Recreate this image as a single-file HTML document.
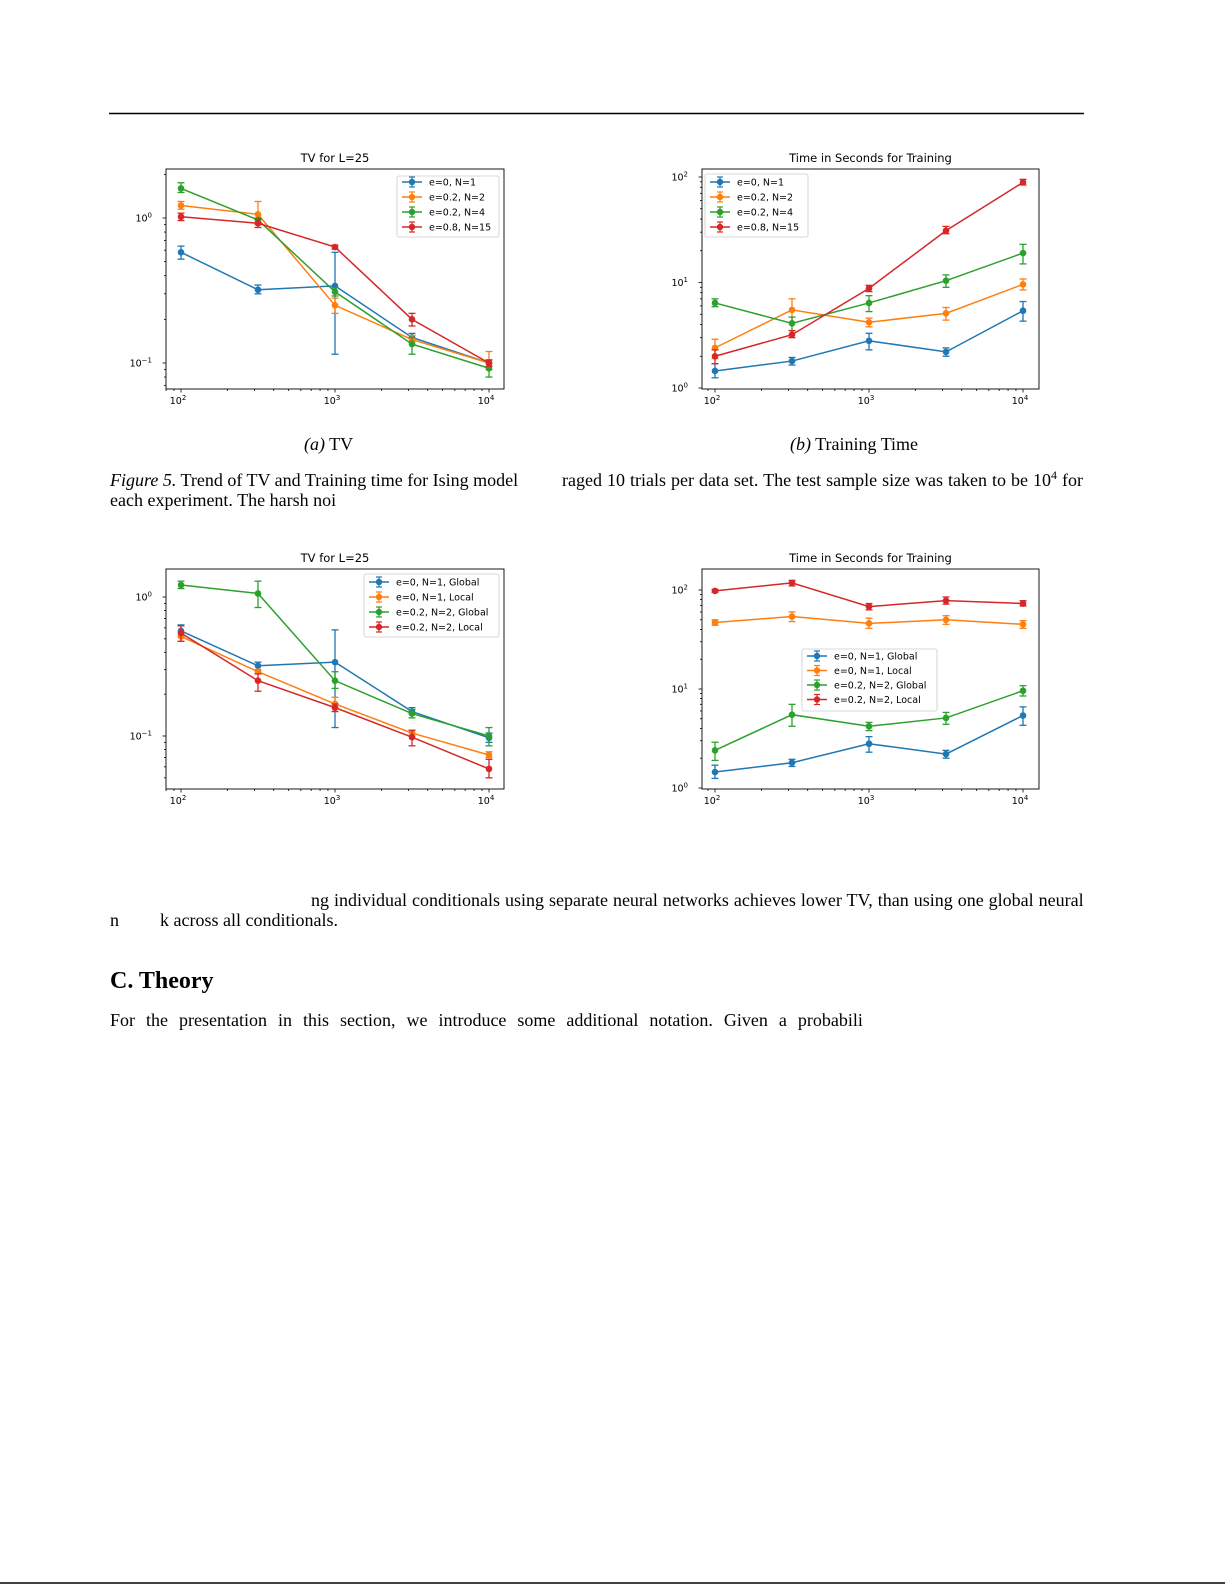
<!DOCTYPE html>
<html><head><meta charset="utf-8">
<style>
html,body{margin:0;padding:0;background:#fff;}
body{width:1225px;height:1585px;position:relative;overflow:hidden;font-family:"Liberation Serif",serif;color:#000;}
.t{position:absolute;font-size:18px;white-space:nowrap;line-height:1;}
svg{position:absolute;left:0;top:0;}
</style></head><body>
<svg id="s" width="1225" height="1585" xmlns="http://www.w3.org/2000/svg">
<line x1="109" y1="113.5" x2="1084" y2="113.5" stroke="#000" stroke-width="1.6"/>
<line x1="0" y1="1583" x2="1225" y2="1583" stroke="#000" stroke-width="1.5"/>
</svg>
<div class="t" style="left:304px;top:435px;"><i>(a)</i> TV</div>
<div class="t" style="left:790px;top:435px;"><i>(b)</i> Training Time</div>
<div class="t" style="left:110px;top:471px;"><i>Figure 5.</i> Trend of TV and Training time for Ising model</div>
<div class="t" style="left:562px;top:471px;word-spacing:0.5px;">raged 10 trials per data set. The test sample size was taken to be 10<sup style="font-size:12px;vertical-align:7px;line-height:0">4</sup> for</div>
<div class="t" style="left:110px;top:491px;">each experiment. The harsh noi</div>
<div class="t" style="left:311px;top:891px;word-spacing:0.5px;">ng individual conditionals using separate neural networks achieves lower TV, than using one global neural</div>
<div class="t" style="left:110px;top:911px;">n</div>
<div class="t" style="left:160px;top:911px;">k across all conditionals.</div>
<div class="t" style="left:110px;top:969px;font-size:24px;font-weight:bold;">C. Theory</div>
<div class="t" style="left:110px;top:1011px;word-spacing:6.5px;">For the presentation in this section, we introduce some additional notation. Given a probabili</div>
<script>
var S=document.getElementById('s'),NS='http://www.w3.org/2000/svg';
function el(t,a,txt){var e=document.createElementNS(NS,t);for(var k in a)e.setAttribute(k,a[k]);if(txt!==undefined)e.textContent=txt;S.appendChild(e);return e;}
var C=['#1f77b4','#ff7f0e','#2ca02c','#d62728'];
var XS=[100,316.2,1000,3162,10000];
function chart(o){
 var X=function(v){return o.xa+(Math.log10(v)-2)*o.dx;};
 var Y=function(v){return o.ya-Math.log10(v)*o.dy;};
 var F='font-family:"DejaVu Sans",sans-serif;';
 el('text',{x:(o.b[0]+o.b[2])/2,y:o.b[1]-7,'text-anchor':'middle',style:F+'font-size:11.5px'},o.title);
 for(var e=1;e<=4;e++)for(var m=1;m<10;m++){var v=m*Math.pow(10,e),x=X(v);if(x<o.b[0]||x>o.b[2])continue;
  el('line',{x1:x,y1:o.b[3],x2:x,y2:o.b[3]+(m==1?3.5:2),stroke:'#000','stroke-width':0.8});
  if(m==1){var t=el('text',{x:x-3,y:o.b[3]+15,'text-anchor':'middle',style:F+'font-size:9.5px'},'10');var ts=document.createElementNS(NS,'tspan');ts.setAttribute('dy','-4');ts.setAttribute('style','font-size:7px');ts.textContent=''+e;t.appendChild(ts);}}
 for(var e=-3;e<=3;e++)for(var m=1;m<10;m++){var v=m*Math.pow(10,e),y=Y(v);if(y<o.b[1]||y>o.b[3])continue;
  el('line',{x1:o.b[0],y1:y,x2:o.b[0]-(m==1?3.5:2),y2:y,stroke:'#000','stroke-width':0.8});
  if(m==1){var t=el('text',{x:o.b[0]-14,y:y+3.5,'text-anchor':'end',style:F+'font-size:9.5px'},'10');var ts=document.createElementNS(NS,'tspan');ts.setAttribute('dy','-4');ts.setAttribute('style','font-size:7px');ts.textContent=(e<0?'\u2212':'')+Math.abs(e);t.appendChild(ts);}}
 o.d.forEach(function(s,i){
  var pts=s.map(function(p,j){return X(XS[j])+','+Y(p[0]);}).join(' ');
  s.forEach(function(p,j){var x=X(XS[j]);el('line',{x1:x,y1:Y(p[1]),x2:x,y2:Y(p[2]),stroke:C[i],'stroke-width':1.3});
   el('line',{x1:x-3.5,y1:Y(p[1]),x2:x+3.5,y2:Y(p[1]),stroke:C[i],'stroke-width':1.3});
   el('line',{x1:x-3.5,y1:Y(p[2]),x2:x+3.5,y2:Y(p[2]),stroke:C[i],'stroke-width':1.3});});
  el('polyline',{points:pts,fill:'none',stroke:C[i],'stroke-width':1.5});
  s.forEach(function(p,j){el('circle',{cx:X(XS[j]),cy:Y(p[0]),r:3.3,fill:C[i]});});
 });
 var L=o.leg;
 el('rect',{x:L[0],y:L[1],width:L[2]-L[0],height:L[3]-L[1],rx:2,fill:'#fff','fill-opacity':0.85,stroke:'#ccc','stroke-width':0.8});
 o.labels.forEach(function(s,i){var y=L[4]+i*L[5],x=L[0]+5;
  el('line',{x1:x,y1:y,x2:x+20,y2:y,stroke:C[i],'stroke-width':1.5});
  el('line',{x1:x+10,y1:y-5,x2:x+10,y2:y+5,stroke:C[i],'stroke-width':1.2});
  el('line',{x1:x+7,y1:y-5,x2:x+13,y2:y-5,stroke:C[i],'stroke-width':1.2});
  el('line',{x1:x+7,y1:y+5,x2:x+13,y2:y+5,stroke:C[i],'stroke-width':1.2});
  el('circle',{cx:x+10,cy:y,r:3.2,fill:C[i]});
  el('text',{x:x+27,y:y+3.5,style:F+'font-size:9.5px'},s);});
 el('rect',{x:o.b[0],y:o.b[1],width:o.b[2]-o.b[0],height:o.b[3]-o.b[1],fill:'none',stroke:'#000','stroke-width':0.9});
}
var lab1=['e=0, N=1','e=0.2, N=2','e=0.2, N=4','e=0.8, N=15'];
var lab2=['e=0, N=1, Global','e=0, N=1, Local','e=0.2, N=2, Global','e=0.2, N=2, Local'];
var blueT=[[1.45,1.25,1.7],[1.8,1.65,1.95],[2.8,2.3,3.3],[2.2,2.0,2.4],[5.4,4.3,6.6]];
var orT=[[2.4,1.9,2.9],[5.5,4.2,7],[4.2,3.8,4.6],[5.1,4.4,5.8],[9.6,8.5,10.8]];
chart({title:'TV for L=25',b:[166,169,504,389],xa:181,dx:154,ya:218,dy:145,labels:lab1,leg:[397,176,499,237,182,15],
 d:[[[0.58,0.52,0.64],[0.32,0.30,0.345],[0.34,0.115,0.58],[0.15,0.14,0.16],[0.10,0.095,0.105]],
    [[1.22,1.15,1.3],[1.06,0.9,1.3],[0.25,0.22,0.28],[0.145,0.14,0.155],[0.10,0.09,0.12]],
    [[1.6,1.5,1.75],[0.97,0.93,1.0],[0.31,0.29,0.33],[0.135,0.115,0.15],[0.092,0.08,0.1]],
    [[1.02,0.96,1.08],[0.92,0.86,0.98],[0.63,0.61,0.65],[0.20,0.18,0.22],[0.10,0.095,0.105]]]});
chart({title:'Time in Seconds for Training',b:[702,169,1039,389],xa:715,dx:154,ya:388,dy:105.5,labels:lab1,leg:[705,174,808,237,182,15],
 d:[blueT,orT,
    [[6.4,5.9,7],[4.1,3.5,4.7],[6.4,5.3,7.5],[10.4,9,11.8],[19,15,23]],
    [[2.0,1.7,2.3],[3.2,3.0,3.5],[8.8,8.2,9.4],[31,29,34],[89,84,95]]]});
chart({title:'TV for L=25',b:[166,569,504,789],xa:181,dx:154,ya:597,dy:139,labels:lab2,leg:[364,574,499,637,582,15],
 d:[[[0.57,0.52,0.63],[0.32,0.30,0.34],[0.34,0.115,0.58],[0.15,0.145,0.16],[0.097,0.09,0.105]],
    [[0.52,0.48,0.56],[0.29,0.28,0.30],[0.17,0.15,0.19],[0.105,0.10,0.11],[0.073,0.07,0.077]],
    [[1.22,1.15,1.3],[1.06,0.84,1.3],[0.25,0.22,0.29],[0.145,0.135,0.155],[0.10,0.085,0.115]],
    [[0.55,0.48,0.62],[0.25,0.21,0.28],[0.16,0.15,0.17],[0.098,0.085,0.11],[0.058,0.05,0.068]]]});
chart({title:'Time in Seconds for Training',b:[702,569,1039,789],xa:715,dx:154,ya:788,dy:99,labels:lab2,leg:[802,649,937,711,656,14.5],
 d:[blueT,
    [[47,44,50],[54,48,60],[46,41,52],[50,45,55],[45,41,49]],
    orT,
    [[98,95,101],[118,110,125],[68,63,73],[78,72,85],[73,69,78]]]});
</script>
</body></html>
